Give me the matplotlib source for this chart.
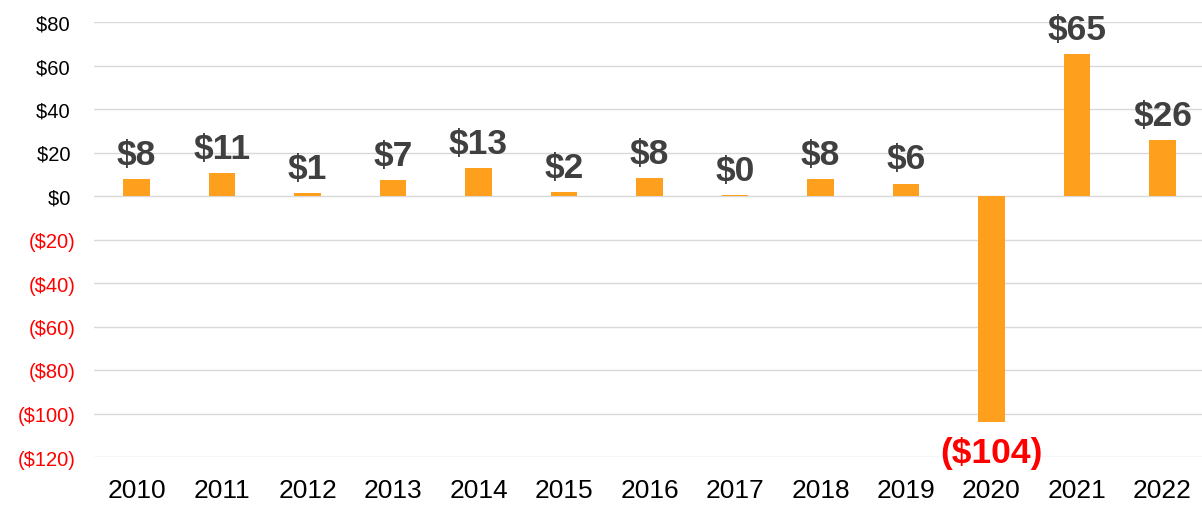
import matplotlib.pyplot as plt
import numpy as np

# yearly change, $ (rounded in the labels)
years = ['2010', '2011', '2012', '2013', '2014', '2015', '2016',
         '2017', '2018', '2019', '2020', '2021', '2022']
values = [7.7, 10.6, 1.4, 7.2, 12.8, 1.8, 8.3, 0.4, 7.8, 5.6, -104.0, 65.3, 25.7]
y_ticks = [80, 60, 40, 20, 0, -20, -40, -60, -80, -100, -120]

BAR = '#FF9F1E'
LABEL = '#404040'
NEG = '#FF0000'


def money(v):
    v = int(round(v))
    if v < 0:
        return '($' + str(-v) + ')'
    return '$' + str(v)


def main():
    plt.rcParams['font.family'] = ['Liberation Sans', 'DejaVu Sans']
    fig = plt.figure(figsize=(12.02, 5.06), dpi=100)
    ax = fig.add_axes([93.75 / 1202, 1 - 458 / 506, 1111.5 / 1202, 435 / 506])

    x = np.arange(len(years))
    ax.bar(x, values, width=0.31, color=BAR, zorder=3)

    for xi, v in zip(x, values):
        if v < 0:
            ax.annotate(money(v), (xi, v), xytext=(0, -10), textcoords='offset points',
                        ha='center', va='top', fontsize=25.5, fontweight='bold',
                        color=NEG, annotation_clip=False, zorder=4)
        else:
            ax.annotate(money(v), (xi, v), xytext=(0, 6), textcoords='offset points',
                        ha='center', va='bottom', fontsize=25.5, fontweight='bold',
                        color=LABEL, annotation_clip=False, zorder=4)

    ax.set_xlim(-0.5, len(years) - 0.5)
    ax.set_ylim(-120, 80)
    ax.set_xticks(x)
    ax.set_xticklabels(years, fontsize=19, color='black')
    ax.set_yticks(y_ticks)
    ax.set_yticklabels([money(t) + ('' if t < 0 else ' ') for t in y_ticks], fontsize=14.5)
    for lab, t in zip(ax.get_yticklabels(), y_ticks):
        lab.set_color(NEG if t < 0 else 'black')

    ax.tick_params(axis='both', length=0)
    ax.tick_params(axis='y', pad=13)
    ax.tick_params(axis='x', pad=15)
    ax.grid(axis='y', color='#D9D9D9', linewidth=1, zorder=0)
    for s in ax.spines.values():
        s.set_visible(False)

    fig.savefig('out.png', dpi=100)


if __name__ == '__main__':
    main()
